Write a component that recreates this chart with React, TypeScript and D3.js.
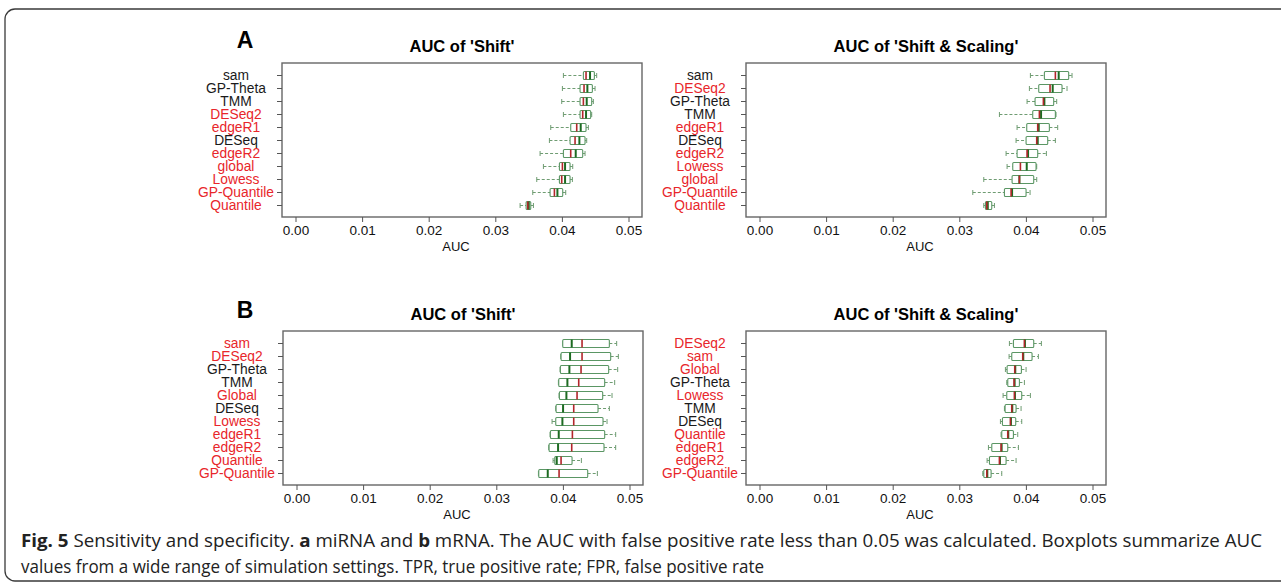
import React, { useRef, useEffect } from 'react';
import * as d3 from 'd3';

// each row: [whiskerLow, q1, redLine, greenLine, q3, whiskerHigh]
const namesA1 = ['sam', 'GP-Theta', 'TMM', 'DESeq2', 'edgeR1', 'DESeq', 'edgeR2', 'global', 'Lowess', 'GP-Quantile', 'Quantile'];
const statsA1 = [
  [0.04015, 0.04315, 0.04355, 0.04415, 0.0448, 0.04515],
  [0.0400, 0.04265, 0.04325, 0.04375, 0.0445, 0.0449],
  [0.0399, 0.04265, 0.04315, 0.04365, 0.0444, 0.04465],
  [0.04015, 0.04265, 0.04305, 0.04355, 0.04425, 0.0444],
  [0.03825, 0.04125, 0.04215, 0.04275, 0.04355, 0.0439],
  [0.03805, 0.04115, 0.0419, 0.04255, 0.0434, 0.04365],
  [0.03665, 0.04015, 0.04125, 0.042, 0.04305, 0.0434],
  [0.03715, 0.03955, 0.0400, 0.0404, 0.04115, 0.04155],
  [0.03615, 0.03955, 0.0399, 0.0404, 0.04115, 0.0415],
  [0.03555, 0.03815, 0.0388, 0.03925, 0.04005, 0.0405],
  [0.03365, 0.03455, 0.0348, 0.03495, 0.03525, 0.03565],
];

const namesA2 = ['sam', 'DESeq2', 'GP-Theta', 'TMM', 'edgeR1', 'DESeq', 'edgeR2', 'Lowess', 'global', 'GP-Quantile', 'Quantile'];
const statsA2 = [
  [0.0406, 0.0427, 0.04435, 0.04485, 0.04635, 0.04685],
  [0.04045, 0.04185, 0.04355, 0.04395, 0.04535, 0.0461],
  [0.0401, 0.0413, 0.04255, 0.0427, 0.0441, 0.04455],
  [0.03595, 0.04095, 0.04195, 0.0422, 0.04435, 0.04445],
  [0.0386, 0.04005, 0.0417, 0.04185, 0.04345, 0.0447],
  [0.03845, 0.03995, 0.04155, 0.0417, 0.0432, 0.04435],
  [0.03695, 0.0386, 0.0401, 0.04025, 0.0417, 0.043],
  [0.0371, 0.03795, 0.0391, 0.04005, 0.04145, 0.04155],
  [0.0336, 0.03785, 0.03895, 0.03895, 0.0411, 0.04155],
  [0.03195, 0.0367, 0.0377, 0.03785, 0.03995, 0.04055],
  [0.0336, 0.03385, 0.03405, 0.0342, 0.0348, 0.0352],
];

const namesB1 = ['sam', 'DESeq2', 'GP-Theta', 'TMM', 'Global', 'DESeq', 'Lowess', 'edgeR1', 'edgeR2', 'Quantile', 'GP-Quantile'];
const statsB1 = [
  [0.0399, 0.0399, 0.0428, 0.04125, 0.0469, 0.048],
  [0.0396, 0.03965, 0.0428, 0.041, 0.0471, 0.04825],
  [0.0395, 0.03955, 0.04265, 0.0409, 0.0468, 0.04815],
  [0.03925, 0.0393, 0.0423, 0.0406, 0.0462, 0.0477],
  [0.03935, 0.0394, 0.04205, 0.04045, 0.0459, 0.0473],
  [0.03885, 0.0389, 0.04155, 0.03995, 0.0452, 0.0469],
  [0.0383, 0.03885, 0.04155, 0.03985, 0.04595, 0.04655],
  [0.038, 0.03805, 0.04135, 0.0393, 0.0462, 0.04785],
  [0.0378, 0.03785, 0.04125, 0.0392, 0.0461, 0.04785],
  [0.03845, 0.0387, 0.03965, 0.039, 0.0413, 0.0427],
  [0.03625, 0.0363, 0.03935, 0.03765, 0.04365, 0.0451],
];

const namesB2 = ['DESeq2', 'sam', 'Global', 'GP-Theta', 'Lowess', 'TMM', 'DESeq', 'Quantile', 'edgeR1', 'edgeR2', 'GP-Quantile'];
const statsB2 = [
  [0.03745, 0.03805, 0.0397, 0.03978, 0.0411, 0.04225],
  [0.0374, 0.0378, 0.03945, 0.03953, 0.04085, 0.0418],
  [0.03685, 0.0371, 0.03825, 0.03833, 0.03925, 0.03995],
  [0.03705, 0.0372, 0.03815, 0.03823, 0.03895, 0.0397],
  [0.0365, 0.03705, 0.0382, 0.03828, 0.0393, 0.0406],
  [0.0367, 0.0368, 0.0378, 0.03788, 0.03845, 0.0392],
  [0.0361, 0.0364, 0.0376, 0.03768, 0.0384, 0.0393],
  [0.0362, 0.0363, 0.0372, 0.03728, 0.03805, 0.0387],
  [0.0343, 0.0348, 0.0362, 0.03628, 0.0372, 0.0388],
  [0.0341, 0.03445, 0.03595, 0.03603, 0.03695, 0.03845],
  [0.03345, 0.0336, 0.03405, 0.03413, 0.0347, 0.0363],
];

// method names drawn in black; all others in red
const blackA = ['sam', 'GP-Theta', 'TMM', 'DESeq'];
const blackB = ['GP-Theta', 'TMM', 'DESeq'];

const xTicks = [0, 0.01, 0.02, 0.03, 0.04, 0.05];
const titles = ["AUC of 'Shift'", "AUC of 'Shift & Scaling'"];

const captionLine1 = ' Sensitivity and specificity. ';
const captionLine2 = 'values from a wide range of simulation settings. TPR, true positive rate; FPR, false positive rate';

export default function App() {
  const svgRef = useRef<SVGSVGElement>(null);

  useEffect(() => {
    if (!svgRef.current) return;
    const svg = d3.select(svgRef.current);
    svg.selectAll('*').remove();

    const W = 360, H = 154;
    const panels = [
      { names: namesA1, stats: statsA1, black: blackA, title: titles[0], left: 282, top: 63 },
      { names: namesA2, stats: statsA2, black: blackA, title: titles[1], left: 746, top: 63 },
      { names: namesB1, stats: statsB1, black: blackB, title: titles[0], left: 283, top: 331 },
      { names: namesB2, stats: statsB2, black: blackB, title: titles[1], left: 746, top: 331 },
    ];

    // outer rounded frame
    svg.append('rect')
      .attr('x', 5).attr('y', 9)
      .attr('width', 1300).attr('height', 572)
      .attr('rx', 10)
      .attr('fill', 'none')
      .attr('stroke', '#3a3a3a')
      .attr('stroke-width', 1.3);

    const font = 'Liberation Sans, Arial, sans-serif';

    // panel letters
    [['A', 48], ['B', 318]].forEach(([t, y]) => {
      svg.append('text')
        .attr('x', 245).attr('y', y as number)
        .attr('text-anchor', 'middle')
        .attr('font-family', font)
        .attr('font-weight', 'bold')
        .attr('font-size', '23px')
        .text(t as string);
    });

    panels.forEach((p) => {
      const x = d3.scaleLinear().domain([0, 0.05]).range([p.left + 14, p.left + 347]);
      const y = d3.scalePoint<string>().domain(p.names).range([p.top + 12.5, p.top + 142.5]);
      const g = svg.append('g');

      g.append('text')
        .attr('x', p.left + W / 2).attr('y', p.top - 11)
        .attr('text-anchor', 'middle')
        .attr('font-family', font)
        .attr('font-weight', 'bold')
        .attr('font-size', '16.5px')
        .text(p.title);

      g.append('rect')
        .attr('x', p.left).attr('y', p.top)
        .attr('width', W).attr('height', H)
        .attr('fill', 'none')
        .attr('stroke', '#666')
        .attr('stroke-width', 1.4);

      // x axis
      xTicks.forEach((t) => {
        g.append('line')
          .attr('x1', x(t)).attr('x2', x(t))
          .attr('y1', p.top + H).attr('y2', p.top + H + 5)
          .attr('stroke', '#555');
        g.append('text')
          .attr('x', x(t)).attr('y', p.top + H + 18)
          .attr('text-anchor', 'middle')
          .attr('font-family', font)
          .attr('font-size', '13.5px')
          .attr('fill', '#111')
          .text(d3.format('.2f')(t));
      });
      g.append('text')
        .attr('x', p.left + 174).attr('y', p.top + H + 34)
        .attr('text-anchor', 'middle')
        .attr('font-family', font)
        .attr('font-size', '13px')
        .attr('fill', '#111')
        .text('AUC');

      p.names.forEach((name, i) => {
        const cy = y(name) as number;
        const [lo, q1, red, green, q3, hi] = p.stats[i];

        g.append('line')
          .attr('x1', p.left - 5).attr('x2', p.left)
          .attr('y1', cy).attr('y2', cy)
          .attr('stroke', '#555');
        g.append('text')
          .attr('x', p.left - 46).attr('y', cy + 4.8)
          .attr('text-anchor', 'middle')
          .attr('font-family', font)
          .attr('font-size', '13.8px')
          .attr('fill', p.black.includes(name) ? '#1a1a1a' : '#e8262b')
          .text(name);

        // whiskers
        const wcol = '#6f9c72';
        [[lo, q1], [q3, hi]].forEach(([a, b]) => {
          g.append('line')
            .attr('x1', x(a)).attr('x2', x(b))
            .attr('y1', cy).attr('y2', cy)
            .attr('stroke', wcol)
            .attr('stroke-width', 1)
            .attr('stroke-dasharray', '3,2');
        });
        [lo, hi].forEach((v) => {
          g.append('line')
            .attr('x1', x(v)).attr('x2', x(v))
            .attr('y1', cy - 2.5).attr('y2', cy + 2.5)
            .attr('stroke', wcol)
            .attr('stroke-width', 1);
        });

        g.append('rect')
          .attr('x', x(q1)).attr('y', cy - 4)
          .attr('width', x(q3) - x(q1)).attr('height', 8)
          .attr('rx', 1)
          .attr('fill', '#fff')
          .attr('stroke', '#5a9664')
          .attr('stroke-width', 1.1);

        g.append('line')
          .attr('x1', x(green)).attr('x2', x(green))
          .attr('y1', cy - 4).attr('y2', cy + 4)
          .attr('stroke', '#1d6b22')
          .attr('stroke-width', 2);
        g.append('line')
          .attr('x1', x(red)).attr('x2', x(red))
          .attr('y1', cy - 4).attr('y2', cy + 4)
          .attr('stroke', '#b3262b')
          .attr('stroke-width', 1.6);
      });
    });

    // caption
    const capFont = 'Open Sans, Noto Sans, sans-serif';
    const l1 = svg.append('text')
      .attr('x', 21).attr('y', 547)
      .attr('font-family', capFont)
      .attr('font-size', '18px')
      .attr('fill', '#222')
      .attr('textLength', 1241)
      .attr('lengthAdjust', 'spacingAndGlyphs');
    l1.append('tspan').attr('font-weight', 'bold').text('Fig. 5');
    l1.append('tspan').text(captionLine1);
    l1.append('tspan').attr('font-weight', 'bold').text('a');
    l1.append('tspan').text(' miRNA and ');
    l1.append('tspan').attr('font-weight', 'bold').text('b');
    l1.append('tspan').text(' mRNA. The AUC with false positive rate less than 0.05 was calculated. Boxplots summarize AUC');

    svg.append('text')
      .attr('x', 21).attr('y', 573)
      .attr('font-family', capFont)
      .attr('font-size', '18px')
      .attr('fill', '#222')
      .attr('textLength', 743)
      .attr('lengthAdjust', 'spacingAndGlyphs')
      .text(captionLine2);
  }, []);

  return (
    <svg
      ref={svgRef}
      width={1281}
      height={587}
      style={{ position: 'absolute', left: 0, top: 0, background: '#fff' }}
    />
  );
}
